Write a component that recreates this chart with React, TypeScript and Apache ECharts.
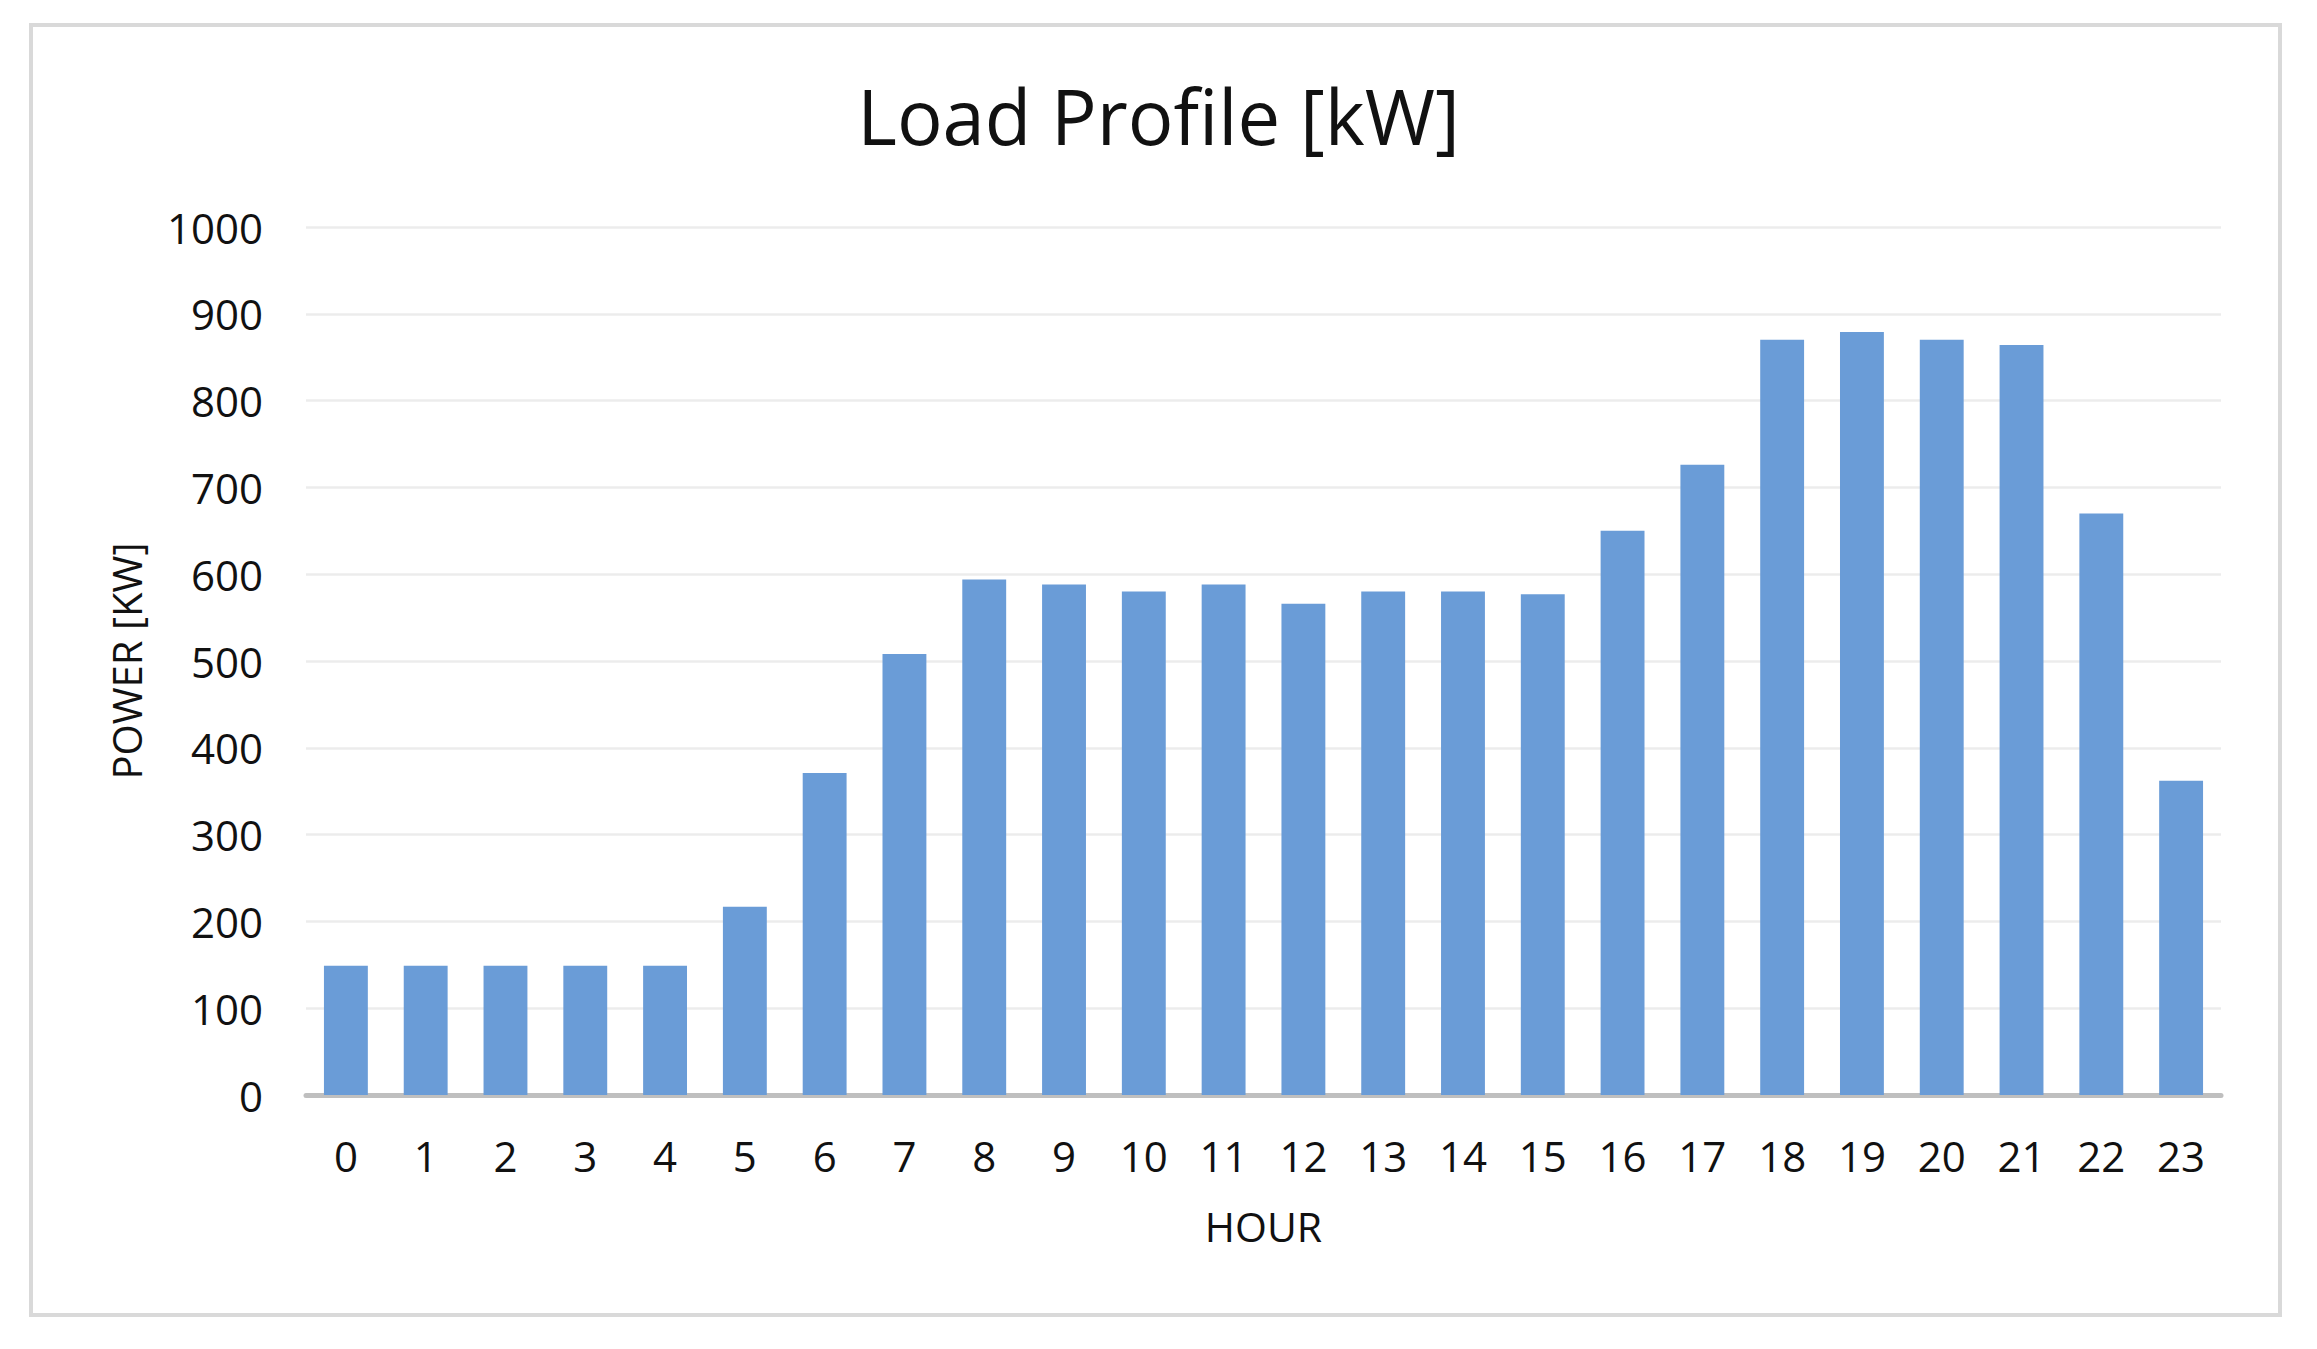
import React, { useEffect, useRef } from "react";
import * as echarts from "echarts";

const hours: string[] = [
  "0", "1", "2", "3", "4", "5", "6", "7", "8", "9", "10", "11",
  "12", "13", "14", "15", "16", "17", "18", "19", "20", "21", "22", "23",
];
const powerKW: number[] = [
  149, 149, 149, 149, 149, 217, 371, 508, 594, 588, 580, 588,
  566, 580, 580, 577, 650, 726, 870, 879, 870, 864, 670, 362,
];
const titleText = "Load Profile [kW]";
const xName = "HOUR";
const yName = "POWER [KW]";

export default function App() {
  const ref = useRef<HTMLDivElement>(null);
  useEffect(() => {
    document.body.style.margin = "0";
    if (!ref.current) return;
    const chart = echarts.init(ref.current, undefined, { renderer: "svg" });
    const font = "'Open Sans', 'Noto Sans', sans-serif";
    chart.setOption({
      animation: false,
      backgroundColor: "#ffffff",
      title: {
        text: titleText,
        left: "center",
        top: 77,
        padding: 0,
        textStyle: { fontFamily: font, fontSize: 76, fontWeight: "normal", color: "#111111" },
      },
      graphic: [
        {
          type: "rect",
          shape: { x: 31, y: 25, width: 2249, height: 1290 },
          style: { fill: "none", stroke: "#d9d9d9", lineWidth: 4 },
          silent: true,
          z: -10,
        },
      ],
      grid: { left: 306, right: 96, top: 227, bottom: 254, containLabel: false },
      xAxis: {
        type: "category",
        data: hours,
        name: xName,
        nameLocation: "middle",
        nameGap: 110,
        nameTextStyle: { fontFamily: font, fontSize: 41, color: "#111111" },
        axisLine: { show: true, lineStyle: { color: "#bfbfbf", width: 5 } },
        axisTick: { show: false },
        axisLabel: { fontFamily: font, fontSize: 42, color: "#111111", margin: 39, interval: 0 },
      },
      yAxis: {
        type: "value",
        min: 0,
        max: 1000,
        interval: 100,
        name: yName,
        nameLocation: "middle",
        nameGap: 160,
        nameTextStyle: { fontFamily: font, fontSize: 40, color: "#111111" },
        axisLine: { show: false },
        axisTick: { show: false },
        axisLabel: {
          fontFamily: font,
          fontSize: 42,
          color: "#111111",
          margin: 43,
          formatter: (v: number) => String(v),
        },
        splitLine: { show: true, lineStyle: { color: "#ececec", width: 2.5 } },
      },
      series: [
        {
          type: "bar",
          data: powerKW,
          barCategoryGap: "45%",
          itemStyle: { color: "#6a9cd7" },
        },
      ],
    });
    return () => chart.dispose();
  }, []);
  return <div ref={ref} style={{ width: 2317, height: 1349 }} />;
}
